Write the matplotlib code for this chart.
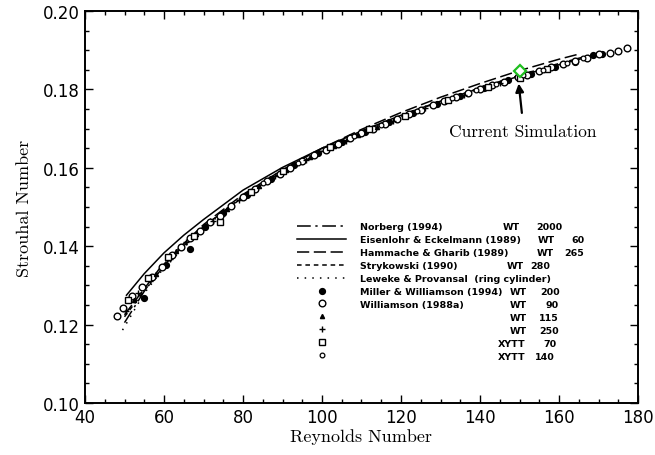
import matplotlib
matplotlib.use("Agg")
import matplotlib.pyplot as plt

# ---- curves ----
re_norberg = [50, 55, 60, 70, 80, 90, 100, 110, 120, 130, 140, 150, 160, 170]
st_norberg = [0.1205, 0.1285, 0.1350, 0.1450, 0.1527, 0.1590, 0.1643, 0.1690,
              0.1732, 0.1770, 0.1804, 0.1836, 0.1866, 0.1893]

re_eisenlohr = [50.5, 55, 60, 65, 70, 80, 90, 100, 110, 120, 130, 140, 150, 160, 170]
st_eisenlohr = [0.1275, 0.1330, 0.1383, 0.1428, 0.1468, 0.1543, 0.1601, 0.1650,
                0.1694, 0.1734, 0.1770, 0.1803, 0.1834, 0.1863, 0.1890]

re_hammache = [50, 60, 70, 80, 90, 100, 110, 120, 130, 140, 150, 160, 165]
st_hammache = [0.1225, 0.1358, 0.1455, 0.1532, 0.1595, 0.1650, 0.1698, 0.1741,
               0.1780, 0.1815, 0.1848, 0.1877, 0.1890]

re_strykowski = [50, 60, 70, 80, 90, 100, 110]
st_strykowski = [0.1220, 0.1352, 0.1450, 0.1525, 0.1588, 0.1641, 0.1688]

re_leweke = [49.5, 55, 60, 70, 80, 90, 100, 120, 140, 160]
st_leweke = [0.1186, 0.1280, 0.1345, 0.1447, 0.1524, 0.1587, 0.1640, 0.1730,
             0.1800, 0.1862]

# ---- experimental points ----
re_miller = [55.0, 60.5, 66.6, 70.5, 75.0, 81.0, 87.0, 93.0, 99.0, 105.0, 111.0,
             117.0, 123.0, 129.0, 135.0, 141.0, 147.0, 153.0, 159.0, 164.0, 168.5, 171.0]
st_miller = [0.1268, 0.1352, 0.1393, 0.1450, 0.1485, 0.1531, 0.1571, 0.1607,
             0.1638, 0.1667, 0.1692, 0.1717, 0.1740, 0.1762, 0.1784, 0.1803,
             0.1823, 0.1840, 0.1858, 0.1871, 0.1889, 0.1890]

re_w90 = [48.1, 49.6, 51.9, 54.4, 57.0, 59.5, 62.0, 64.3, 66.6, 69.0, 71.6, 74.2,
          77.0, 80.0, 83.0, 86.0, 89.4, 92.0, 95.0, 98.0, 101.0, 104.0, 107.0,
          110.0, 113.0, 116.0, 119.0, 122.0, 125.0, 128.0, 131.0, 134.0, 137.0,
          140.0, 143.0, 146.0, 149.5, 152.0, 155.0, 158.0, 161.0, 164.0, 167.0,
          170.0, 173.0, 175.0, 177.3]
st_w90 = [0.1222, 0.1242, 0.1273, 0.1296, 0.1322, 0.1347, 0.1378, 0.1398, 0.1421,
          0.1439, 0.1462, 0.1478, 0.1503, 0.1526, 0.1546, 0.1566, 0.1584, 0.1600,
          0.1617, 0.1632, 0.1646, 0.1661, 0.1675, 0.1688, 0.1700, 0.1713, 0.1725,
          0.1737, 0.1748, 0.1759, 0.1770, 0.1780, 0.1790, 0.1800, 0.1810, 0.1820,
          0.1832, 0.1838, 0.1847, 0.1856, 0.1865, 0.1873, 0.1881, 0.1890, 0.1893,
          0.1898, 0.1906]

re_w115 = [52.5, 58.0, 63.0, 68.0, 76.0, 84.0, 91.0, 97.0, 103.0, 109.0, 114.0]
st_w115 = [0.1262, 0.1330, 0.1388, 0.1432, 0.1496, 0.1553, 0.1594, 0.1627,
           0.1656, 0.1684, 0.1704]

re_w250 = [50.5, 53.5, 56.5, 61.5, 65.5, 72.5, 79.0, 88.0, 96.0, 106.0, 118.0,
           126.0, 136.0, 145.0]
st_w250 = [0.1235, 0.1280, 0.1312, 0.1368, 0.1410, 0.1465, 0.1518, 0.1578,
           0.1621, 0.1669, 0.1720, 0.1752, 0.1786, 0.1816]

re_x70 = [51.0, 56.0, 61.0, 67.5, 74.2, 82.0, 90.0, 102.0, 112.0, 121.0, 132.0,
          142.0, 150.0, 157.0]
st_x70 = [0.1262, 0.1318, 0.1372, 0.1425, 0.1462, 0.1538, 0.1592, 0.1652,
          0.1698, 0.1733, 0.1773, 0.1806, 0.1828, 0.1852]

re_x140 = [85.0, 94.0, 108.0, 115.0, 124.0, 133.0, 139.0, 144.0, 151.0, 156.0,
           162.0, 166.0]
st_x140 = [0.1562, 0.1612, 0.1680, 0.1710, 0.1745, 0.1778, 0.1798, 0.1813,
           0.1836, 0.1850, 0.1868, 0.1880]

re_sim = [150.0]
st_sim = [0.1847]

# legend rows: name, facility, Re
legend_rows = [
    ("Norberg (1994)", "WT", "2000"),
    ("Eisenlohr & Eckelmann (1989)", "WT", "60"),
    ("Hammache & Gharib (1989)", "WT", "265"),
    ("Strykowski (1990)", "WT", "280"),
    ("Leweke & Provansal  (ring cylinder)", "", ""),
    ("Miller & Williamson (1994)", "WT", "200"),
    ("Williamson (1988a)", "WT", "90"),
    ("", "WT", "115"),
    ("", "WT", "250"),
    ("", "XYTT", "70"),
    ("", "XYTT", "140"),
]
# x positions (pixels in the reference) of the facility / Re columns
fac_px = [503, 538, 537, 507, None, 510, 510, 510, 510, 498, 498]
re_px = [562, 584, 584, 550, None, 560, 559, 559, 559, 557, 555]

fig = plt.figure(figsize=(6.55, 4.56), dpi=100)
ax = fig.add_axes([85 / 655, 1 - 404 / 456, 553 / 655, 392 / 456])

k = dict(color="black", lw=1.1)
h1, = ax.plot(re_norberg, st_norberg, ls=(0, (9, 3, 1.5, 3)), **k)
h2, = ax.plot(re_eisenlohr, st_eisenlohr, ls="-", **k)
h3, = ax.plot(re_hammache, st_hammache, ls=(0, (8, 3)), **k)
h4, = ax.plot(re_strykowski, st_strykowski, ls=(0, (3, 2.5)), **k)
h5, = ax.plot(re_leweke, st_leweke, ls=(0, (1, 4)), **k)

m = dict(ls="none", color="black")
h6, = ax.plot(re_miller, st_miller, marker="o", ms=4.2, **m)
h7, = ax.plot(re_w90, st_w90, marker="o", ms=4.8, mfc="white", mew=1.0, **m)
h8, = ax.plot(re_w115, st_w115, marker="^", ms=3.0, **m)
h9, = ax.plot(re_w250, st_w250, marker="+", ms=4.0, mew=1.0, **m)
h10, = ax.plot(re_x70, st_x70, marker="s", ms=4.5, mfc="white", mew=1.0, **m)
h11, = ax.plot(re_x140, st_x140, marker="o", ms=3.4, mfc="white", mew=0.9, **m)

ax.plot(re_sim, st_sim, ls="none", marker="D", ms=6, mfc="white",
        mec="#1fbf1f", mew=1.6, zorder=5)

ax.annotate("", xy=(149.8, 0.1815), xytext=(150.6, 0.1740),
            arrowprops=dict(arrowstyle="-|>", color="black", lw=1.6,
                            mutation_scale=12, shrinkA=0, shrinkB=0))
ax.text(150.9, 0.1694, "Current Simulation", family="cmr10", fontsize=12.5,
        ha="center", va="center")

ax.set_xlim(40, 180)
ax.set_ylim(0.10, 0.20)
ax.set_xticks(range(40, 181, 20))
ax.set_xticks(range(40, 181, 5), minor=True)
ax.set_yticks([0.10, 0.12, 0.14, 0.16, 0.18, 0.20])
ax.set_yticks([0.10 + 0.005 * i for i in range(21)], minor=True)
ax.set_yticklabels(["0.10", "0.12", "0.14", "0.16", "0.18", "0.20"])
ax.tick_params(which="both", direction="in", top=True, right=True,
               labelsize=12, width=1.0)
ax.tick_params(which="major", length=6)
ax.tick_params(which="minor", length=3)
for s in ax.spines.values():
    s.set_linewidth(1.4)

ax.set_xlabel("Reynolds Number", family="cmr10", fontsize=13, labelpad=2)
ax.set_ylabel("Strouhal Number", family="cmr10", fontsize=13, labelpad=8)

LEG_FS = 6.8
handles = [h1, h2, h3, h4, h5, h6, h7, h8, h9, h10, h11]
leg = ax.legend(handles, [r[0] if r[0] else " " for r in legend_rows],
                loc="upper left", bbox_to_anchor=((297 - 85) / 553, (404 - 223) / 392),
                frameon=False, borderpad=0, borderaxespad=0,
                handlelength=5.2, handletextpad=1.5, labelspacing=0.42,
                prop=dict(family="DejaVu Sans", weight="bold", size=LEG_FS))

fig.canvas.draw()
inv = ax.transAxes.inverted()
for t, row, fx, rx in zip(leg.get_texts(), legend_rows, fac_px, re_px):
    if fx is None:
        continue
    bb = t.get_window_extent()
    yc = inv.transform((0, (bb.y0 + bb.y1) / 2))[1]
    ax.text((fx - 85) / 553, yc, row[1], transform=ax.transAxes, ha="left",
            va="center", family="DejaVu Sans", weight="bold", fontsize=LEG_FS)
    ax.text((rx - 85) / 553, yc, row[2], transform=ax.transAxes, ha="right",
            va="center", family="DejaVu Sans", weight="bold", fontsize=LEG_FS)

fig.savefig("out.png", dpi=100)
